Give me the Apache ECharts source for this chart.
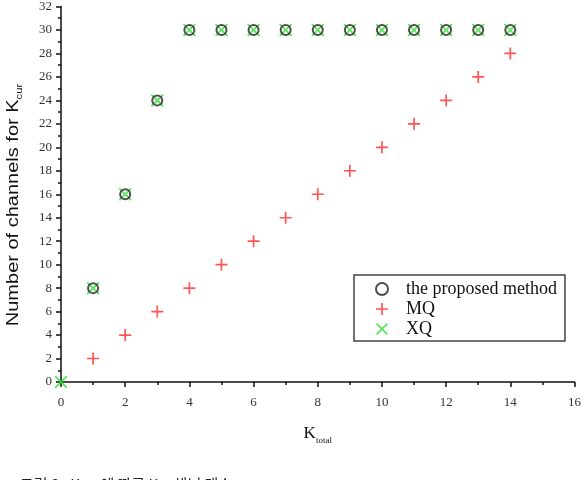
<!DOCTYPE html>
<html>
<head>
    <meta charset="UTF-8">
    <title>K_total vs K_cur</title>
    <style>
        * { margin: 0; padding: 0 }
        #chart { width: 584px; height: 480px; }
    </style>
</head>
<body>
<div id="chart"></div>
<script type="text/javascript" src="https://cdn.jsdelivr.net/npm/echarts@6/dist/echarts.min.js"></script>
<script type="text/javascript">
    // data
    var kTotal = [0, 1, 2, 3, 4, 5, 6, 7, 8, 9, 10, 11, 12, 13, 14];
    var proposedVal = [null, 8, 16, 24, 30, 30, 30, 30, 30, 30, 30, 30, 30, 30, 30];
    var mqVal = [null, 2, 4, 6, 8, 10, 12, 14, 16, 18, 20, 22, 24, 26, 28];
    var xqVal = [0, 8, 16, 24, 30, 30, 30, 30, 30, 30, 30, 30, 30, 30, 30];
    var seriesNames = ['the proposed method', 'MQ', 'XQ'];

    function pairs(vals) {
        var out = [];
        for (var i = 0; i < kTotal.length; i++) {
            if (vals[i] != null) out.push([kTotal[i], vals[i]]);
        }
        return out;
    }

    var plusPath = 'path://M4.3,0h1.4v4.3h4.3v1.4h-4.3v4.3h-1.4v-4.3h-4.3v-1.4h4.3z';
    var crossPath = 'path://M1,0L5,4L9,0L10,1L6,5L10,9L9,10L5,6L1,10L0,9L4,5L0,1z';
    var serif = 'Liberation Serif';

    var myChart = echarts.init(document.getElementById('chart'));
    var option = {
        animation: false,
        grid: { left: 61, right: 8, top: 3, bottom: 98 },
        legend: {
            orient: 'vertical',
            left: 354,
            top: 275,
            padding: [5, 8, 3, 21],
            itemGap: 2,
            itemWidth: 12,
            itemHeight: 12,
            borderColor: '#444',
            borderWidth: 1.5,
            textStyle: { fontFamily: serif, fontSize: 18, color: '#111', padding: [0, 0, 0, 13] },
            data: seriesNames
        },
        xAxis: {
            type: 'value',
            min: 0, max: 16, interval: 2,
            name: '{k|K}{s|total}',
            nameLocation: 'middle',
            nameGap: 40,
            nameTextStyle: {
                rich: {
                    k: { fontFamily: serif, fontSize: 17, color: '#111' },
                    s: { fontFamily: serif, fontSize: 9, color: '#111', padding: [14, 0, 0, 0] }
                }
            },
            axisLine: { lineStyle: { color: '#111', width: 1.5 } },
            axisTick: { length: 5, lineStyle: { color: '#111', width: 1.5 } },
            minorTick: { show: true, splitNumber: 2, length: 3, lineStyle: { color: '#111', width: 1.5 } },
            splitLine: { show: false },
            axisLabel: { fontFamily: serif, fontSize: 13, color: '#333', margin: 14 }
        },
        yAxis: {
            type: 'value',
            min: 0, max: 32, interval: 2,
            axisLine: { show: true, lineStyle: { color: '#111', width: 1.5 } },
            axisTick: { show: true, length: 5, lineStyle: { color: '#111', width: 1.5 } },
            minorTick: { show: true, splitNumber: 2, length: 3, lineStyle: { color: '#111', width: 1.5 } },
            splitLine: { show: false },
            axisLabel: { fontFamily: serif, fontSize: 13, color: '#333', margin: 9 }
        },
        series: [
            {
                name: seriesNames[2],
                type: 'scatter',
                symbol: crossPath,
                symbolSize: 13,
                z: 2,
                itemStyle: { color: '#33dd33' },
                data: pairs(xqVal)
            },
            {
                name: seriesNames[1],
                type: 'scatter',
                symbol: plusPath,
                symbolSize: 12,
                z: 2,
                itemStyle: { color: '#ff2a2a' },
                data: pairs(mqVal)
            },
            {
                name: seriesNames[0],
                type: 'scatter',
                symbol: 'circle',
                symbolSize: 10,
                z: 3,
                itemStyle: { color: 'rgba(0,0,0,0)', borderColor: '#222', borderWidth: 2 },
                data: pairs(proposedVal)
            }
        ],
        graphic: [{
            // y axis title, stretched along its length like the scanned figure
            type: 'text',
            x: 14,
            y: 205,
            rotation: Math.PI / 2,
            scaleX: 1.25,
            style: {
                text: '{k|Number of channels for K}{s|cur}',
                align: 'center',
                verticalAlign: 'middle',
                rich: {
                    k: { fontFamily: 'Liberation Sans', fontSize: 16, fill: '#111' },
                    s: { fontFamily: 'Liberation Sans', fontSize: 9, fill: '#111', padding: [12, 0, 0, 0] }
                }
            }
        }, {
            type: 'text',
            left: 20,
            top: 477,
            style: {
                text: '{a|그림 8.  K}{s|total} {a|에 따른 K}{s|cur} {a|채널 개수}',
                rich: {
                    a: { fontFamily: 'Noto Sans CJK KR', fontSize: 15, fill: '#222' },
                    s: { fontFamily: 'Noto Sans CJK KR', fontSize: 8, fill: '#222' }
                }
            }
        }]
    };
    myChart.setOption(option);
</script>
</body>
</html>
